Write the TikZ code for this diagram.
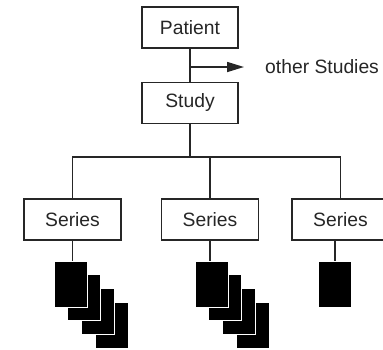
\documentclass[tikz,border=0pt]{standalone}
\usepackage{fontspec}
\setmainfont{Liberation Sans}
\usetikzlibrary{arrows.meta}
\begin{document}
\begin{tikzpicture}[x=1pt,y=-1pt,
  line/.style={draw=black!85,line width=1.6pt},
  entity/.style={line,fill=white,minimum width=96pt,minimum height=41pt,inner sep=0pt,
    font=\fontsize{19.3}{21}\selectfont,text=black!85},
  img/.style={fill=black,draw=white,line width=1pt,minimum width=33pt,minimum height=46pt,inner sep=0pt},
  lbl/.style={font=\fontsize{19.3}{21}\selectfont,text=black!85,inner sep=0pt}]
\clip (0,0) rectangle (383,349);
\fill[white] (0,0) rectangle (383,349);
% nodes
\node[entity] (patient) at (190,27.5) {Patient};
\node[entity] (study) at (190,103) {Study};
\node[entity,minimum width=97pt] (s1) at (72.5,219.5) {Series};
\node[entity,minimum width=97pt] (s2) at (210,219.5) {Series};
\node[entity,minimum width=97pt] (s3) at (340.5,219.5) {Series};
\node[lbl,anchor=west] (other) at (265,67) {other Studies};
% coordinates
\coordinate (br) at (190,67);
\coordinate (ae) at (244,67);
\coordinate (bus) at (190,157);
% connectors
\draw[line] (patient) -- (study);
\draw[line,-{Triangle[length=17pt,width=10pt]}] (br) -- (ae);
\draw[line] (study) -- (bus);
\draw[line] (s1.north) |- (bus);
\draw[line] (s2.north) |- (bus);
\draw[line] (s3.north) |- (bus);
% image stacks
\foreach \c/\cx in {a/70.5, b/211.5} {
  \foreach \k in {3,2,1,0} {
    \node[img] (i\c\k) at ({\cx+13.7*\k},{284+13.7*\k}) {};
  }
}
\node[img] (ic0) at (335,284) {};
\draw[line] (s1.south) -- (s1.south |- ia0.north);
\draw[line] (s2.south) -- (s2.south |- ib0.north);
\draw[line] (ic0.north) -- (ic0.north |- s3.south);
\end{tikzpicture}
\end{document}
